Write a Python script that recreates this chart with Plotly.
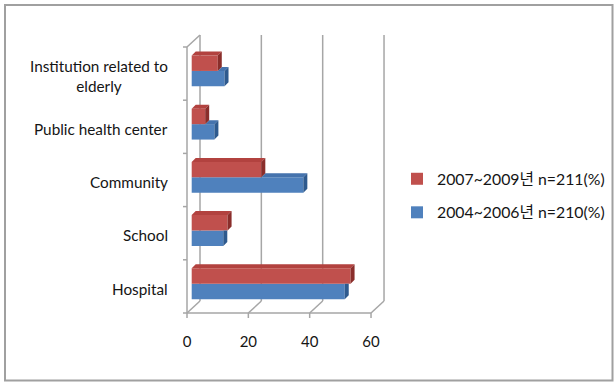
import plotly.graph_objects as go

# ---------------- data ----------------
categories = ["Hospital", "School", "Community", "Public health center",
              "Institution related to<br>elderly"]
series_2007 = [51.8, 11.7, 22.7, 4.4, 8.5]   # red
series_2004 = [49.9, 10.3, 36.4, 7.4, 10.7]  # blue
x_ticks = [0, 20, 40, 60]
name_2007 = "2007~2009년 n=211(%)"
name_2004 = "2004~2006년 n=210(%)"

# ---------------- geometry (pixels -> data units) ----------------
W, H = 614, 382
PX_X0 = 187.0      # pixel of front-plane x = 0
PX_PER_X = 3.067
PX_Y0 = 313.0      # pixel of front-plane category boundary y = -0.5
PX_PER_Y = 53.2
L, R, T, B = 178, 392, 32, 324   # plot area in pixels


def ux(px):
    return (px - PX_X0) / PX_PER_X


def uy(py):
    return (PX_Y0 - py) / PX_PER_Y - 0.5


DX = 13 / PX_PER_X      # depth of chart box
DY = 12 / PX_PER_Y
BX0 = 4.7 / PX_PER_X    # bar front-face start
BDX = 4 / PX_PER_X      # bar depth
BDY = 4 / PX_PER_Y
RED_OFF, BLUE_OFF, BW = 0.05, -0.24, 0.29

RED, RED_TOP, RED_SIDE = "#C0504D", "#B2423F", "#8A2E2B"
BLUE, BLUE_TOP, BLUE_SIDE = "#4F81BD", "#4573AD", "#2E5A8E"
GRID = "#A6A6A6"
FONT = "Lato, Noto Sans CJK KR, sans-serif"
TXT = "#151515"

n = len(categories)
ypos = list(range(n))

fig = go.Figure()

fig.add_trace(go.Bar(
    orientation="h", y=ypos, x=series_2004, base=BX0,
    offset=BLUE_OFF, width=BW, marker=dict(color=BLUE, line=dict(width=0)),
    name=name_2004, legendgroup="b", legendrank=2, hoverinfo="skip"))
fig.add_trace(go.Bar(
    orientation="h", y=ypos, x=series_2007, base=BX0,
    offset=RED_OFF, width=BW, marker=dict(color=RED, line=dict(width=0)),
    name=name_2007, legendgroup="a", legendrank=1, hoverinfo="skip"))


def poly_trace(polys, color):
    xs, ys = [], []
    for p in polys:
        for (a, b) in p + [p[0]]:
            xs.append(a)
            ys.append(b)
        xs.append(None)
        ys.append(None)
    return go.Scatter(x=xs, y=ys, mode="lines", fill="toself",
                      fillcolor=color, line=dict(width=0, color=color),
                      showlegend=False, hoverinfo="skip")


red_top, red_side, blue_top, blue_side = [], [], [], []
for i, (r, b) in enumerate(zip(series_2007, series_2004)):
    xr1 = BX0 + r
    xb1 = BX0 + b
    yb_r = i + RED_OFF
    yt_r = yb_r + BW
    yb_b = i + BLUE_OFF
    yt_b = yb_b + BW
    red_top.append([(BX0, yt_r), (xr1, yt_r), (xr1 + BDX, yt_r + BDY), (BX0 + BDX, yt_r + BDY)])
    red_side.append([(xr1, yb_r), (xr1, yt_r), (xr1 + BDX, yt_r + BDY), (xr1 + BDX, yb_r + BDY)])
    if xb1 > xr1:
        blue_top.append([(xr1, yt_b), (xb1, yt_b), (xb1 + BDX, yt_b + BDY), (xr1 + BDX, yt_b + BDY)])
        blue_side.append([(xb1, yb_b), (xb1, yt_b), (xb1 + BDX, yt_b + BDY), (xb1 + BDX, yb_b + BDY)])
    else:
        blue_side.append([(xb1, yb_b), (xb1, yt_b), (xb1 + BDX, yt_b), (xb1 + BDX, yb_b + BDY)])

fig.add_trace(poly_trace(blue_top, BLUE_TOP))
fig.add_trace(poly_trace(blue_side, BLUE_SIDE))
fig.add_trace(poly_trace(red_top, RED_TOP))
fig.add_trace(poly_trace(red_side, RED_SIDE))

# ---------------- frame (3-D box) ----------------
shapes = []


def seg(x0, y0, x1, y1, color=GRID, w=1.5):
    shapes.append(dict(type="line", xref="x", yref="y", x0=x0, y0=y0, x1=x1, y1=y1,
                       line=dict(color=color, width=w), layer="below"))


ybot, ytop = -0.5, n - 0.5
xmax = x_ticks[-1]
for v in x_ticks:
    seg(v + DX, ybot + DY, v + DX, ytop + DY)          # back wall gridline
    seg(v, ybot, v + DX, ybot + DY)                    # floor diagonal
    seg(v, ybot, v, ybot - 5 / PX_PER_Y)               # front tick
seg(0, ybot, xmax, ybot)                               # front floor edge
seg(0, ybot, 0, ytop)                                  # front left axis
seg(0, ytop, DX, ytop + DY)                            # top-left diagonal
for k in range(n + 1):
    seg(0, k - 0.5, -4 / PX_PER_X, k - 0.5)            # category ticks

# outer border
shapes.append(dict(type="rect", xref="paper", yref="paper",
                   x0=(5 - L) / (R - L), x1=(612.5 - L) / (R - L),
                   y0=(B - 380.5) / (B - T), y1=(B - 5) / (B - T),
                   line=dict(color="#A0A0A0", width=2), layer="below"))

# category labels
annotations = []
for i, c in enumerate(categories):
    annotations.append(dict(xref="paper", yref="y", x=(170 - L) / (R - L), y=i - 0.04,
                            xanchor="right", yanchor="middle", align="center",
                            text=c, showarrow=False,
                            font=dict(family=FONT, size=15.3, color=TXT)))

fig.update_layout(
    width=W, height=H,
    margin=dict(l=L, r=W - R, t=T, b=H - B, pad=0, autoexpand=False),
    paper_bgcolor="white", plot_bgcolor="white",
    barmode="overlay",
    font=dict(family=FONT, size=15, color=TXT),
    xaxis=dict(range=[ux(L), ux(R)], tickvals=x_ticks, showgrid=False,
               zeroline=False, showline=False, ticks="", ticklabelstandoff=7,
               tickfont=dict(family=FONT, size=15, color=TXT), fixedrange=True),
    yaxis=dict(range=[uy(B), uy(T)], showticklabels=False, showgrid=False,
               zeroline=False, showline=False, ticks="", fixedrange=True),
    shapes=shapes, annotations=annotations,
    legend=dict(x=(397 - L) / (R - L), y=(B - 196) / (B - T), xanchor="left",
                yanchor="middle", tracegroupgap=10, bgcolor="rgba(0,0,0,0)",
                font=dict(family=FONT, size=15.8, color=TXT)),
    showlegend=True,
)

fig.write_html("out.html")
